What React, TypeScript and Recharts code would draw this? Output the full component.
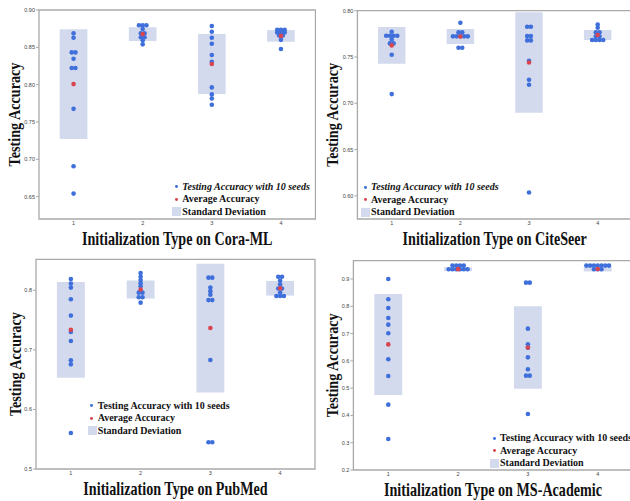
import { ScatterChart, Scatter, XAxis, YAxis, ReferenceArea } from 'recharts';

// categories on the x axis
const categories = [1, 2, 3, 4];

// Cora-ML
const coraSeeds = [
  [0.8687, 0.8629, 0.8432, 0.8432, 0.8347, 0.8222, 0.8222, 0.7676, 0.6907, 0.654],
  [0.8795, 0.8795, 0.8795, 0.8745, 0.8687, 0.8687, 0.8634, 0.8634, 0.8593, 0.854],
  [0.8785, 0.8709, 0.8629, 0.8548, 0.8397, 0.8307, 0.7963, 0.7869, 0.7815, 0.773],
  [0.8735, 0.8735, 0.8735, 0.87, 0.87, 0.87, 0.866, 0.866, 0.86, 0.8477],
];
const coraAvg = [0.8007, 0.8677, 0.8276, 0.8653];
const coraStd = [0.0736, 0.0092, 0.0402, 0.0078];
const coraTicks = [0.65, 0.7, 0.75, 0.8, 0.85, 0.9];

// CiteSeer
const citeSeeds = [
  [0.7773, 0.7729, 0.7729, 0.7729, 0.7729, 0.769, 0.7647, 0.7647, 0.7524, 0.7099],
  [0.787, 0.7766, 0.7766, 0.7723, 0.7723, 0.7723, 0.7723, 0.7723, 0.76, 0.76],
  [0.7827, 0.7827, 0.7726, 0.7726, 0.7679, 0.7679, 0.7459, 0.7254, 0.72, 0.6036],
  [0.785, 0.7816, 0.7766, 0.7766, 0.7723, 0.7723, 0.7683, 0.7683, 0.7683, 0.7683],
];
const citeAvg = [0.7625, 0.7722, 0.744, 0.7737];
const citeStd = [0.0198, 0.0081, 0.0542, 0.0054];
const citeTicks = [0.6, 0.65, 0.7, 0.75, 0.8];

// PubMed
const pubSeeds = [
  [0.819, 0.8112, 0.8045, 0.7849, 0.7575, 0.73, 0.7149, 0.6825, 0.6757, 0.5605],
  [0.829, 0.8228, 0.8173, 0.8117, 0.8067, 0.796, 0.796, 0.7883, 0.7883, 0.7792],
  [0.8212, 0.8212, 0.8045, 0.7985, 0.7925, 0.7835, 0.7835, 0.683, 0.5448, 0.5448],
  [0.8226, 0.8226, 0.8165, 0.8101, 0.803, 0.803, 0.7963, 0.7903, 0.7903, 0.7903],
];
const pubAvg = [0.7336, 0.8012, 0.7366, 0.8034];
const pubStd = [0.0803, 0.0151, 0.108, 0.0123];
const pubTicks = [0.5, 0.6, 0.7, 0.8];

// MS-Academic
const msSeeds = [
  [0.9, 0.8255, 0.7937, 0.7571, 0.7326, 0.7009, 0.6056, 0.5445, 0.4395, 0.3136],
  [0.949, 0.949, 0.949, 0.949, 0.9355, 0.9355, 0.9355, 0.9355, 0.9355, 0.9355],
  [0.8866, 0.8866, 0.718, 0.6606, 0.6484, 0.6129, 0.5689, 0.5457, 0.5457, 0.4053],
  [0.949, 0.949, 0.949, 0.949, 0.949, 0.949, 0.949, 0.9355, 0.9355, 0.9355],
];
const msAvg = [0.6603, 0.936, 0.649, 0.9366];
const msStd = [0.185, 0.0073, 0.1514, 0.009];
const msTicks = [0.2, 0.3, 0.4, 0.5, 0.6, 0.7, 0.8, 0.9];

const BLUE = '#3f6fdb';
const RED = '#d9454f';
const BAND = '#d3daee';
const FRAME = '#a9a9a9';
const SERIF = '"Liberation Serif", "Times New Roman", serif';
const SANS = '"Liberation Sans", Arial, sans-serif';
const SWARM_STEP = 0.054;

// spread equal values side by side, like a swarm plot
function swarm(groups: number[][]) {
  const pts: { x: number; y: number }[] = [];
  groups.forEach((vals, i) => {
    const counts = new Map<number, number>();
    vals.forEach((v) => counts.set(v, (counts.get(v) || 0) + 1));
    const seen = new Map<number, number>();
    vals.forEach((v) => {
      const n = counts.get(v)!;
      const k = seen.get(v) || 0;
      seen.set(v, k + 1);
      pts.push({ x: categories[i] + (k - (n - 1) / 2) * SWARM_STEP, y: v });
    });
  });
  return pts;
}

const dot = (color: string) => (props: any) =>
  <circle cx={props.cx} cy={props.cy} r={2.3} fill={color} />;

const XTitle = ({ posX, posY, text }: any) => (
  <text
    transform={`translate(${posX},${posY}) scale(0.785,1)`}
    textAnchor="middle"
    fontFamily={SERIF}
    fontWeight="bold"
    fontSize={18}
    fill="#111"
  >
    {text}
  </text>
);

const YTitle = ({ posX, posY }: any) => (
  <text
    transform={`translate(${posX},${posY}) rotate(-90) scale(0.835,1)`}
    textAnchor="middle"
    fontFamily={SERIF}
    fontWeight="bold"
    fontSize={17}
    fill="#111"
  >
    Testing Accuracy
  </text>
);

interface PanelProps {
  title: string;
  seeds: number[][];
  avg: number[];
  std: number[];
  ticks: number[];
  domain: [number, number];
  digits: number;
  left: number;
  top: number;
  width: number;
  height: number;
  marginTop: number;
  marginRight: number;
  axisWidth: number;
  axisHeight: number;
  yTitleX: number;
}

function Panel(p: PanelProps) {
  const plotLeft = p.axisWidth;
  const plotRight = p.width - p.marginRight;
  const plotBottom = p.height - p.axisHeight;
  const avgData = categories.map((c, i) => ({ x: c, y: p.avg[i] }));
  return (
    <div style={{ position: 'absolute', left: p.left, top: p.top }}>
      <ScatterChart
        width={p.width}
        height={p.height}
        margin={{ top: p.marginTop, right: p.marginRight, bottom: 0, left: 0 }}
      >
        <XAxis
          type="number"
          dataKey="x"
          domain={[0.5, 4.5]}
          ticks={categories}
          allowDataOverflow
          axisLine={false}
          tickLine={false}
          tickSize={0}
          tickMargin={2}
          height={p.axisHeight}
          tick={{ fontSize: 5.5, fill: '#444', fontFamily: SANS }}
          label={<XTitle posX={(plotLeft + plotRight) / 2} posY={plotBottom + 25.7} text={p.title} />}
        />
        <YAxis
          type="number"
          dataKey="y"
          domain={p.domain}
          ticks={p.ticks}
          allowDataOverflow
          width={p.axisWidth}
          axisLine={false}
          tickLine={{ stroke: FRAME }}
          tickSize={3}
          tickMargin={1}
          tickFormatter={(v: number) => v.toFixed(p.digits)}
          tick={{ fontSize: 5.5, fill: '#444', fontFamily: SANS }}
          label={<YTitle posX={p.yTitleX} posY={(p.marginTop + plotBottom) / 2} />}
        />
        {categories.map((c, i) => (
          <ReferenceArea
            key={c}
            x1={c - 0.2}
            x2={c + 0.2}
            y1={p.avg[i] - p.std[i]}
            y2={p.avg[i] + p.std[i]}
            fill={BAND}
            fillOpacity={1}
            stroke="none"
          />
        ))}
        <ReferenceArea
          x1={0.5}
          x2={4.5}
          y1={p.domain[0]}
          y2={p.domain[1]}
          fill="none"
          stroke={FRAME}
          strokeWidth={1.3}
        />
        <Scatter data={swarm(p.seeds)} shape={dot(BLUE)} isAnimationActive={false} />
        <Scatter data={avgData} shape={dot(RED)} isAnimationActive={false} />
      </ScatterChart>
    </div>
  );
}

function LegendBox({ left, top, italic }: { left: number; top: number; italic: boolean }) {
  const rows = [
    { kind: 'dot', color: BLUE, label: 'Testing Accuracy with 10 seeds', italic },
    { kind: 'dot', color: RED, label: 'Average Accuracy', italic: false },
    { kind: 'box', color: BAND, label: 'Standard Deviation', italic: false },
  ];
  return (
    <div
      style={{
        position: 'absolute',
        left,
        top,
        fontFamily: SERIF,
        fontWeight: 'bold',
        fontSize: 10,
        color: '#111',
        whiteSpace: 'nowrap',
      }}
    >
      {rows.map((r, i) => (
        <div key={r.label} style={{ position: 'absolute', left: 0, top: i * 12.6, height: 12, width: 300 }}>
          {r.kind === 'dot' ? (
            <span
              style={{
                position: 'absolute',
                left: 2.8,
                top: 4.6,
                width: 2.8,
                height: 2.8,
                borderRadius: '50%',
                background: r.color,
              }}
            />
          ) : (
            <span style={{ position: 'absolute', left: 0, top: 1.5, width: 9, height: 9, background: r.color }} />
          )}
          <span
            style={{
              position: 'absolute',
              left: 10,
              top: 0,
              lineHeight: '12px',
              fontStyle: r.italic ? 'italic' : 'normal',
            }}
          >
            {r.label}
          </span>
        </div>
      ))}
    </div>
  );
}

export default function App() {
  return (
    <div
      style={{
        position: 'absolute',
        left: 0,
        top: 0,
        width: 630,
        height: 501,
        overflow: 'hidden',
        background: '#fff',
      }}
    >
      <Panel
        title="Initialization Type on Cora-ML"
        seeds={coraSeeds}
        avg={coraAvg}
        std={coraStd}
        ticks={coraTicks}
        domain={[0.62, 0.9]}
        digits={2}
        left={0}
        top={0}
        width={316}
        height={250}
        marginTop={10}
        marginRight={0.5}
        axisWidth={39}
        axisHeight={31}
        yTitleX={20.3}
      />
      <Panel
        title="Initialization Type on CiteSeer"
        seeds={citeSeeds}
        avg={citeAvg}
        std={citeStd}
        ticks={citeTicks}
        domain={[0.575, 0.8]}
        digits={2}
        left={315}
        top={0}
        width={318}
        height={250}
        marginTop={10.7}
        marginRight={1}
        axisWidth={42.4}
        axisHeight={31}
        yTitleX={22.9}
      />
      <Panel
        title="Initialization Type on PubMed"
        seeds={pubSeeds}
        avg={pubAvg}
        std={pubStd}
        ticks={pubTicks}
        domain={[0.5, 0.852]}
        digits={1}
        left={0}
        top={250}
        width={316}
        height={251}
        marginTop={9.3}
        marginRight={1}
        axisWidth={36}
        axisHeight={32}
        yTitleX={20.5}
      />
      <Panel
        title="Initialization Type on MS-Academic"
        seeds={msSeeds}
        avg={msAvg}
        std={msStd}
        ticks={msTicks}
        domain={[0.2, 0.967]}
        digits={1}
        left={315}
        top={250}
        width={318}
        height={251}
        marginTop={10.7}
        marginRight={0.4}
        axisWidth={38.4}
        axisHeight={31}
        yTitleX={22.8}
      />
      <LegendBox left={172.3} top={180.7} italic />
      <LegendBox left={361} top={181.3} italic />
      <LegendBox left={87.7} top={399.7} italic={false} />
      <LegendBox left={490} top={432.3} italic={false} />
    </div>
  );
}
